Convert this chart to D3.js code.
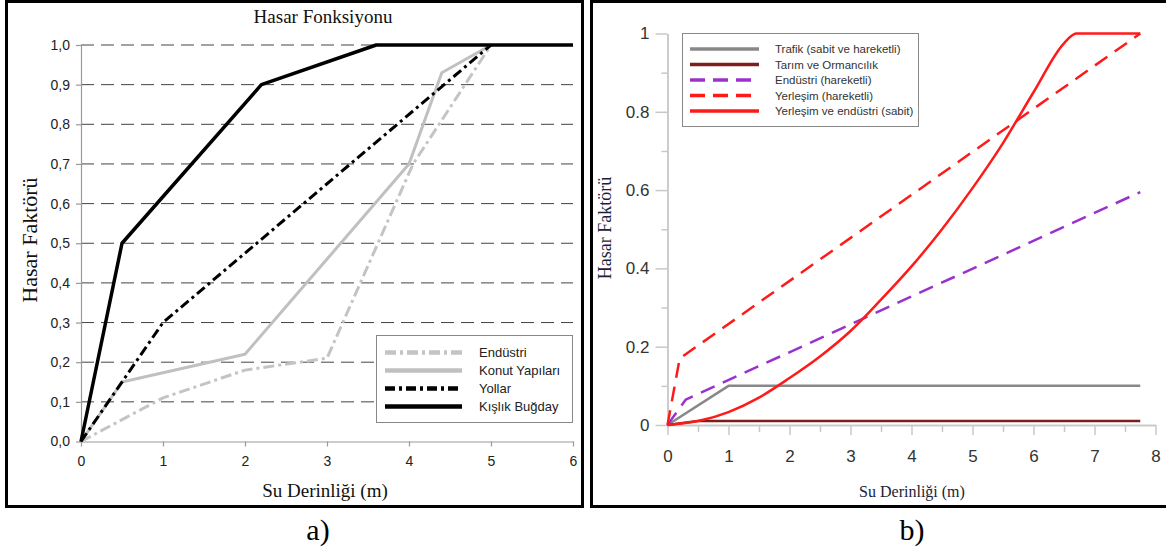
<!DOCTYPE html>
<html>
<head>
<meta charset="utf-8">
<script src="https://cdn.jsdelivr.net/npm/d3@7"></script>
<style>
  body { margin: 0; background: #fff; }
  text { font-family: "Liberation Sans", Arial, sans-serif; }
  .serif { font-family: "Liberation Serif", "Times New Roman", serif; }
</style>
</head>
<body>
<div id="chart"></div>
<script>
// ---- a) Hasar Fonksiyonu ----
var ticksA_x = [0, 1, 2, 3, 4, 5, 6];
var ticksA_y = [0, 0.1, 0.2, 0.3, 0.4, 0.5, 0.6, 0.7, 0.8, 0.9, 1.0];

var endustriX = [0, 1, 2, 3, 4.05, 5];
var endustriY = [0, 0.11, 0.18, 0.21, 0.7, 1.0];
var konutX = [0, 0.5, 2, 4, 4.4, 5];
var konutY = [0, 0.15, 0.22, 0.7, 0.93, 1.0];
var yollarX = [0, 1, 5];
var yollarY = [0, 0.3, 1.0];
var bugdayX = [0, 0.5, 2.2, 3.6, 6];
var bugdayY = [0, 0.5, 0.9, 1.0, 1.0];
var legendA = ["Endüstri", "Konut Yapıları", "Yollar", "Kışlık Buğday"];

// ---- b) ----
var ticksB_x = [0, 1, 2, 3, 4, 5, 6, 7, 8];
var minorB_x = [0.5, 1.5, 2.5, 3.5, 4.5, 5.5, 6.5, 7.5];
var ticksB_y = [0, 0.2, 0.4, 0.6, 0.8, 1];
var minorB_y = [0.1, 0.3, 0.5, 0.7, 0.9];

var trafikX = [0, 1, 7.75];
var trafikY = [0, 0.1, 0.1];
var tarimX = [0, 0.5, 7.75];
var tarimY = [0, 0.01, 0.01];
var endHarX = [0, 0.3, 7.75];
var endHarY = [0, 0.065, 0.595];
var yerHarX = [0, 0.2, 7.75];
var yerHarY = [0, 0.17, 1.0];
var yerSabX = [0, 0.5, 1, 1.5, 2, 2.5, 3, 3.5, 4, 4.5, 5, 5.5, 6, 6.5, 6.7, 7.75];
var yerSabY = [0, 0.01, 0.033, 0.07, 0.12, 0.175, 0.24, 0.32, 0.405, 0.5, 0.605, 0.72, 0.85, 0.975, 1.0, 1.0];
var legendB = ["Trafik (sabit ve hareketli)", "Tarım ve Ormancılık", "Endüstri (hareketli)",
               "Yerleşim (hareketli)", "Yerleşim ve endüstri (sabit)"];

var svg = d3.select("#chart").append("svg")
  .attr("width", 1166).attr("height", 552);

function pairs(xs, ys) { return xs.map(function(x, i) { return [x, ys[i]]; }); }

function drawSeries(g, xs, ys, x, y, st, curve) {
  var line = d3.line()
    .x(function(d) { return x(d[0]); })
    .y(function(d) { return y(d[1]); })
    .curve(curve || d3.curveLinear);
  g.append("path")
    .datum(pairs(xs, ys))
    .attr("d", line)
    .attr("fill", "none")
    .attr("stroke", st.color)
    .attr("stroke-width", st.width)
    .attr("stroke-dasharray", st.dash || null)
    .attr("stroke-linejoin", "round");
}

function styleAxis(sel, col, w, txt, size) {
  sel.select(".domain").attr("stroke", col).attr("stroke-width", w);
  sel.selectAll(".tick line").attr("stroke", col).attr("stroke-width", w);
  sel.selectAll(".tick text").attr("fill", txt).style("font-size", size + "px")
    .style("font-family", '"Liberation Sans", Arial, sans-serif');
}

// panel frames
svg.append("rect").attr("x", 6.5).attr("y", 1.5).attr("width", 576).attr("height", 505)
  .attr("fill", "none").attr("stroke", "#000").attr("stroke-width", 3);
svg.append("rect").attr("x", 591.5).attr("y", 1.5).attr("width", 600).attr("height", 505)
  .attr("fill", "none").attr("stroke", "#000").attr("stroke-width", 3);

// ================= panel a =================
var xA = d3.scaleLinear().domain([0, 6]).range([81, 573]);
var yA = d3.scaleLinear().domain([0, 1]).range([441.5, 45]);
var gA = svg.append("g");

// dashed grid
gA.selectAll(".grid").data(ticksA_y.filter(function(d) { return d > 0; }))
  .enter().append("line")
  .attr("x1", xA(0)).attr("x2", xA(6))
  .attr("y1", function(d) { return yA(d); }).attr("y2", function(d) { return yA(d); })
  .attr("stroke", "#444").attr("stroke-width", 1).attr("stroke-dasharray", "13,7");

var axAy = gA.append("g").attr("transform", "translate(" + xA(0) + ",0)")
  .call(d3.axisLeft(yA).tickValues(ticksA_y).tickSize(5).tickSizeOuter(0).tickPadding(6)
    .tickFormat(function(d) { return d3.format(".1f")(d).replace(".", ","); }));
styleAxis(axAy, "#999", 1.2, "#222", 14);

var axAx = gA.append("g").attr("transform", "translate(0," + yA(0) + ")")
  .call(d3.axisBottom(xA).tickValues(ticksA_x).tickSize(5).tickSizeOuter(0).tickPadding(10)
    .tickFormat(d3.format("d")));
styleAxis(axAx, "#999", 1.2, "#222", 14);

var stA = [
  { color: "#c4c4c4", width: 3, dash: "11,4,3,4" },
  { color: "#c0c0c0", width: 3 },
  { color: "#000", width: 3, dash: "10,4,3,4" },
  { color: "#000", width: 3.5 }
];
drawSeries(gA, endustriX, endustriY, xA, yA, stA[0]);
drawSeries(gA, konutX, konutY, xA, yA, stA[1]);
drawSeries(gA, yollarX, yollarY, xA, yA, stA[2]);
drawSeries(gA, bugdayX, bugdayY, xA, yA, stA[3]);

// legend a
var legA = gA.append("g");
legA.append("rect").attr("x", 376.5).attr("y", 335.5).attr("width", 196).attr("height", 87)
  .attr("fill", "#fff").attr("stroke", "#888").attr("stroke-width", 1);
legendA.forEach(function(name, i) {
  var yy = 352.5 + i * 18;
  legA.append("line").attr("x1", 385).attr("x2", 462).attr("y1", yy).attr("y2", yy)
    .attr("stroke", stA[i].color).attr("stroke-width", 4.5)
    .attr("stroke-dasharray", stA[i].dash || null);
  legA.append("text").attr("x", 479).attr("y", yy).attr("dy", "0.35em")
    .style("font-size", "13px").attr("fill", "#222").text(name);
});

gA.append("text").attr("class", "serif").attr("x", 323).attr("y", 23)
  .attr("text-anchor", "middle").style("font-size", "19px").attr("fill", "#111")
  .text("Hasar Fonksiyonu");
gA.append("text").attr("class", "serif")
  .attr("transform", "translate(37,240) rotate(-90)")
  .attr("text-anchor", "middle").style("font-size", "22px").attr("fill", "#111")
  .text("Hasar Faktörü");
gA.append("text").attr("class", "serif").attr("x", 325).attr("y", 497)
  .attr("text-anchor", "middle").style("font-size", "19px").attr("fill", "#111")
  .text("Su Derinliği (m)");
svg.append("text").attr("class", "serif").attr("x", 318).attr("y", 540)
  .attr("text-anchor", "middle").style("font-size", "30px").attr("fill", "#000").text("a)");

// ================= panel b =================
var xB = d3.scaleLinear().domain([0, 8]).range([667.5, 1155.5]);
var yB = d3.scaleLinear().domain([0, 1]).range([425, 33.5]);
var gB = svg.append("g");

var axBy = gB.append("g").attr("transform", "translate(" + xB(0) + ",0)")
  .call(d3.axisLeft(yB).tickValues(ticksB_y).tickSize(12).tickSizeOuter(0).tickPadding(6)
    .tickFormat(d3.format("~g")));
styleAxis(axBy, "#c8c8c8", 1.5, "#333", 17);
var axBy2 = gB.append("g").attr("transform", "translate(" + xB(0) + ",0)")
  .call(d3.axisLeft(yB).tickValues(minorB_y).tickSize(6).tickSizeOuter(0).tickFormat(""));
styleAxis(axBy2, "#c8c8c8", 1.5, "#333", 17);

var axBx = gB.append("g").attr("transform", "translate(0," + yB(0) + ")")
  .call(d3.axisBottom(xB).tickValues(ticksB_x).tickSize(10).tickSizeOuter(0).tickPadding(15));
styleAxis(axBx, "#c8c8c8", 1.5, "#333", 17);
var axBx2 = gB.append("g").attr("transform", "translate(0," + yB(0) + ")")
  .call(d3.axisBottom(xB).tickValues(minorB_x).tickSize(7).tickSizeOuter(0).tickFormat(""));
styleAxis(axBx2, "#c8c8c8", 1.5, "#333", 17);

var stB = [
  { color: "#888888", width: 2.5 },
  { color: "#7d1d1d", width: 2.5 },
  { color: "#9932cc", width: 2.5, dash: "15,9" },
  { color: "#ff1a1a", width: 2.5, dash: "15,9" },
  { color: "#ff1a1a", width: 2.5 }
];
drawSeries(gB, trafikX, trafikY, xB, yB, stB[0]);
drawSeries(gB, tarimX, tarimY, xB, yB, stB[1]);
drawSeries(gB, endHarX, endHarY, xB, yB, stB[2]);
drawSeries(gB, yerHarX, yerHarY, xB, yB, stB[3]);
drawSeries(gB, yerSabX, yerSabY, xB, yB, stB[4], d3.curveMonotoneX);

// legend b
var legB = gB.append("g");
legB.append("rect").attr("x", 682.5).attr("y", 33.5).attr("width", 236).attr("height", 93)
  .attr("fill", "#fff").attr("stroke", "#888").attr("stroke-width", 1);
legendB.forEach(function(name, i) {
  var yy = 49 + i * 15.5;
  legB.append("line").attr("x1", 690).attr("x2", 759).attr("y1", yy).attr("y2", yy)
    .attr("stroke", stB[i].color).attr("stroke-width", 3.5)
    .attr("stroke-dasharray", stB[i].dash ? "15,8" : null);
  legB.append("text").attr("x", 775).attr("y", yy).attr("dy", "0.35em")
    .style("font-size", "11.5px").attr("fill", "#333").text(name);
});

gB.append("text").attr("class", "serif")
  .attr("transform", "translate(611,228) rotate(-90)")
  .attr("text-anchor", "middle").style("font-size", "18px").attr("fill", "#1a2238")
  .text("Hasar Faktörü");
gB.append("text").attr("class", "serif").attr("x", 912).attr("y", 497)
  .attr("text-anchor", "middle").style("font-size", "16px").attr("fill", "#1a2238")
  .text("Su Derinliği (m)");
svg.append("text").attr("class", "serif").attr("x", 912).attr("y", 540)
  .attr("text-anchor", "middle").style("font-size", "30px").attr("fill", "#000").text("b)");
</script>
</body>
</html>
